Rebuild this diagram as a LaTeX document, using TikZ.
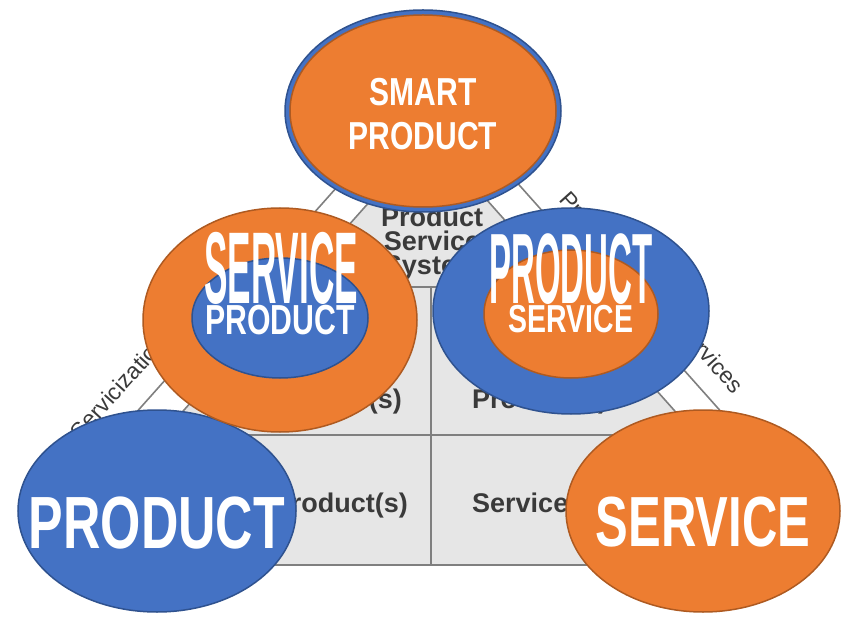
\documentclass[tikz,border=0pt]{standalone}
\usepackage{fontspec}
\setmainfont{Liberation Sans}
\usepackage{graphicx}
\usepackage{tikz}
\usetikzlibrary{shapes,arrows,positioning}

\definecolor{PSblue}{HTML}{4472C4}
\definecolor{PSblueline}{HTML}{2F528F}
\definecolor{PSorange}{HTML}{ED7D31}
\definecolor{PSorangeline}{HTML}{AE5A21}
\definecolor{PScell}{HTML}{E6E6E6}
\definecolor{PSline}{HTML}{7F7F7F}
\definecolor{PStext}{HTML}{3A3A3A}

\begin{document}
\begin{tikzpicture}[x=1pt,y=-1pt]
		\tikzstyle{Blue}	= [ellipse, draw=PSblueline, line width=1.5pt, fill=PSblue, inner sep=0pt]
		\tikzstyle{Orange}	= [ellipse, draw=PSorangeline, line width=1.5pt, fill=PSorange, inner sep=0pt]
		\tikzstyle{Word}	= [white, inner sep=0pt]
		\tikzstyle{Cell}	= [PStext, font=\fontsize{27}{24}\selectfont\bfseries, inner sep=0pt, align=center]
		\tikzstyle{Side}	= [PStext, font=\fontsize{23}{23}\selectfont, inner sep=0pt]
		\tikzstyle{Rule}	= [PSline, line width=1.6pt]

		\useasboundingbox (0,0) rectangle (843,617);

		\coordinate (apex) at (429,135);
		\coordinate (il) at (46,565);
		\coordinate (ir) at (812,565);
		\coordinate (la) at (85,470);
		\coordinate (lb) at (370,150);
		\coordinate (ra) at (488,150);
		\coordinate (rb) at (773,470);
		\coordinate (h1l) at (293.5,287);
		\coordinate (h1r) at (564.5,287);
		\coordinate (h2l) at (162,435);
		\coordinate (h2r) at (696,435);
		\coordinate (vt) at (431,287);
		\coordinate (vb) at (431,565);

		\fill [PScell] (apex) -- (il) -- (ir) -- cycle;
		\draw [Rule] (apex) -- (il) -- (ir) -- cycle;
		\draw [Rule] (h1l) to (h1r);
		\draw [Rule] (h2l) to (h2r);
		\draw [Rule] (vt) to (vb);
		\draw [Rule] (la) to (lb);
		\draw [Rule] (ra) to (rb);

		\node (pss) at (432,244) [Cell] {Product\\Service\\System};
		\node (mls) at (402,408) [Cell, anchor=base east] {Service(s)};
		\node (mrp) at (472,408) [Cell, anchor=base west] {Product(s)};
		\node (blp) at (408,512) [Cell, anchor=base east] {Product(s)};
		\node (brs) at (472,512) [Cell, anchor=base west] {Service(s)};

		\node (servicization) at (160,344) [Side, rotate=48] {Servicization of products};
		\node (productization) at (652,292) [Side, rotate=-48] {Productization of services};

		\node (prod) at (157,511) [Blue, minimum width=278, minimum height=202] {};
		\node (serv) at (703,511) [Orange, minimum width=274, minimum height=202] {};
		\node (lring) at (280,320) [Orange, minimum width=274, minimum height=224] {};
		\node (lcore) at (280,318) [Blue, minimum width=176, minimum height=120] {};
		\node (rring) at (571,311) [Blue, minimum width=276, minimum height=206] {};
		\node (rcore) at (571,314) [Orange, minimum width=174, minimum height=128] {};
		\node (top) at (423,111) [Blue, minimum width=276, minimum height=202] {};
		\node (topin) at (423,111) [Orange, minimum width=266, minimum height=192] {};

		\node (smart) at (423,92) [Word, font=\fontsize{39}{39}\selectfont\bfseries] {\scalebox{0.77}[1]{SMART}};
		\node (smartprod) at (423,136) [Word, font=\fontsize{39}{39}\selectfont\bfseries] {\scalebox{0.77}[1]{PRODUCT}};
		\node (lsmall) at (280,320) [Word, font=\fontsize{42}{42}\selectfont\bfseries] {\scalebox{0.72}[1]{PRODUCT}};
		\node (lbig) at (281,268) [Word, font=\fontsize{102}{102}\selectfont\bfseries] {\scalebox{0.345}[1]{SERVICE}};
		\node (rsmall) at (571,319) [Word, font=\fontsize{39}{39}\selectfont\bfseries] {\scalebox{0.73}[1]{SERVICE}};
		\node (rbig) at (571,269) [Word, font=\fontsize{100}{100}\selectfont\bfseries] {\scalebox{0.33}[1]{PRODUCT}};
		\node (ptext) at (157,523) [Word, font=\fontsize{74}{74}\selectfont\bfseries] {\scalebox{0.70}[1]{PRODUCT}};
		\node (stext) at (703,522) [Word, font=\fontsize{71}{71}\selectfont\bfseries] {\scalebox{0.69}[1]{SERVICE}};
	\end{tikzpicture}
\end{document}
